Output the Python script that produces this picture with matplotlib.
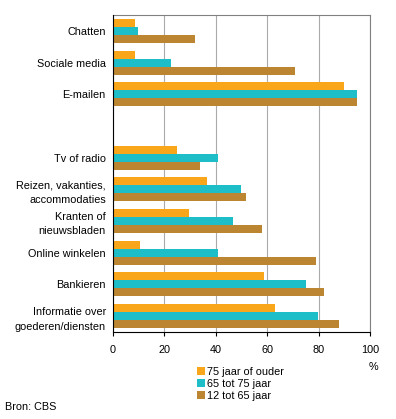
import numpy as np
import matplotlib
matplotlib.use("Agg")
from matplotlib import pyplot as plt
from matplotlib.patches import Patch

plt.rcParams['font.family'] = ['Liberation Sans', 'DejaVu Sans']

# categories from top to bottom, empty string is the blank row
labels = ["Chatten", "Sociale media", "E-mailen", "",
          "Tv of radio", "Reizen, vakanties,\naccommodaties",
          "Kranten of\nnieuwsbladen", "Online winkelen", "Bankieren",
          "Informatie over\ngoederen/diensten"]
oud75 = [8.7, 8.7, 89.8, np.nan, 25, 36.6, 29.6, 10.6, 58.7, 63]
tot75 = [9.8, 22.6, 94.8, np.nan, 40.9, 49.8, 46.7, 40.9, 75, 79.7]
tot65 = [32, 70.8, 94.8, np.nan, 33.9, 51.7, 58, 78.9, 82, 87.8]
series_names = ["75 jaar of ouder", "65 tot 75 jaar", "12 tot 65 jaar"]
colors = ["#F9A61B", "#1EBEC8", "#BC8531"]

fs = 7.8
fig = plt.figure(figsize=(3.96, 4.19), dpi=100)
ax = fig.add_axes([112.7/396, 1-332/419, (370.3-112.7)/396, (332-15)/419])

y = np.arange(len(labels))
h = 0.253
for i, vals in enumerate([oud75, tot75, tot65]):
    ax.barh(y + (i-1)*h, vals, height=h, color=colors[i], zorder=3)

ax.set_ylim(len(labels)-0.5, -0.5)
ax.set_xlim(0, 100)
ax.set_yticks(y)
ax.set_yticklabels(labels, fontsize=fs, linespacing=1.55)
ax.tick_params(axis='y', length=0, pad=5)
ax.set_xticks([0, 20, 40, 60, 80, 100])
ax.tick_params(axis='x', length=3, width=0.8, labelsize=fs, pad=6, color='black')
ax.grid(axis='x', color='#AAAAAA', linewidth=0.8, zorder=0)

for s in ['top', 'right']:
    ax.spines[s].set_color('#808080')
for s in ['left', 'bottom']:
    ax.spines[s].set_color('black')
    ax.spines[s].set_zorder(4)

fig.text(373/396, 1-367/419, "%", fontsize=fs, ha='center', va='center')
fig.text(5/396, 1-407/419, "Bron: CBS", fontsize=fs, ha='left', va='center')

handles = [Patch(facecolor=c, edgecolor='none') for c in colors]
fig.legend(handles, series_names, loc='upper left',
           bbox_to_anchor=(197/396, 1-367/419), frameon=False,
           fontsize=fs, handlelength=0.72, handleheight=0.72,
           handletextpad=0.2, labelspacing=0.18, borderpad=0, borderaxespad=0)

fig.savefig("out.png", dpi=100)
